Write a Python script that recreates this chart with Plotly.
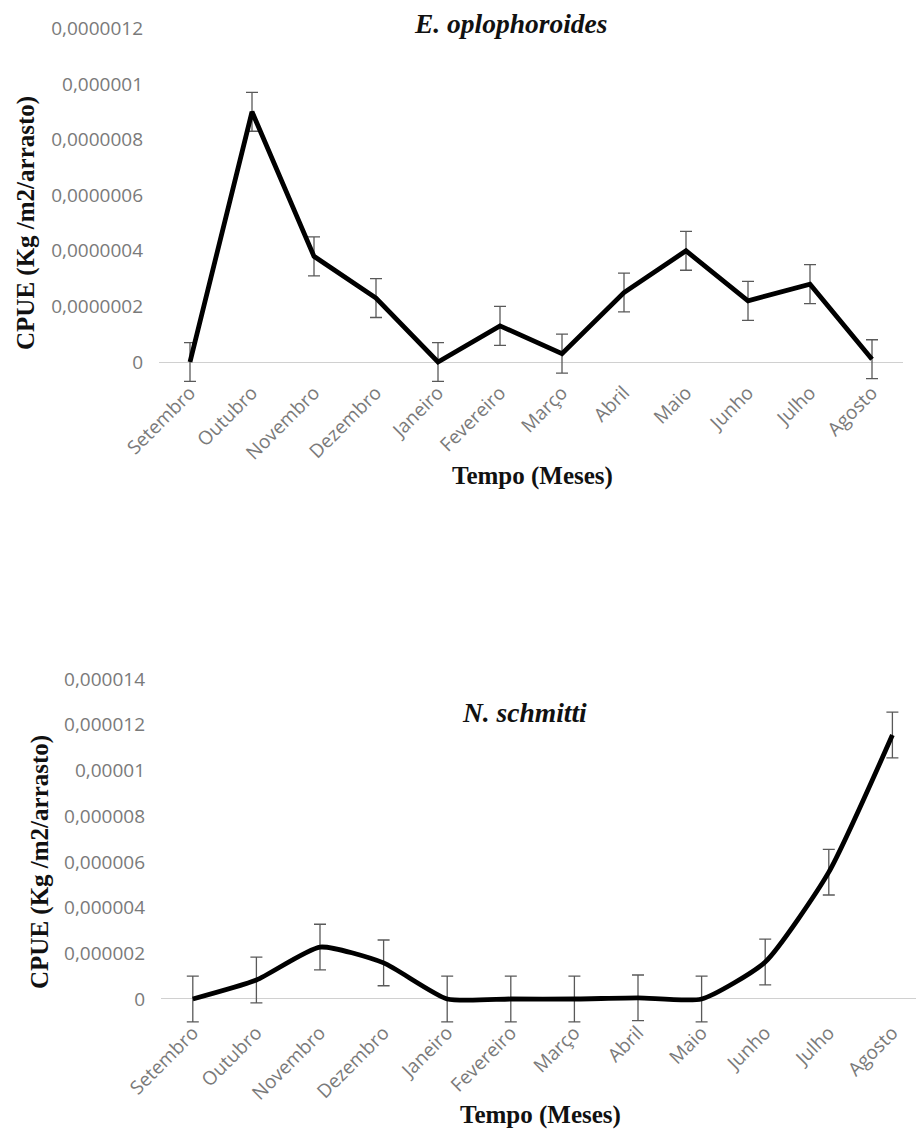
import plotly.graph_objects as go

# Months of the sampling year
months = ["Setembro", "Outubro", "Novembro", "Dezembro", "Janeiro", "Fevereiro",
          "Março", "Abril", "Maio", "Junho", "Julho", "Agosto"]

# CPUE (Kg/m2/arrasto) - E. oplophoroides
cpue_oplo = [0.0, 9.0e-7, 3.8e-7, 2.3e-7, 0.0, 1.3e-7,
             0.3e-7, 2.5e-7, 4.0e-7, 2.2e-7, 2.8e-7, 0.1e-7]
err_oplo = [7e-8] * 12

# CPUE (Kg/m2/arrasto) - N. schmitti
cpue_schm = [0.0, 0.83e-6, 2.27e-6, 1.58e-6, 0.0, 0.0,
             0.0, 0.05e-6, 0.0, 1.62e-6, 5.55e-6, 11.55e-6]
err_schm = [1.0e-6] * 12

# Axis tick values and labels (decimal comma)
ticks_oplo = [0, 2e-7, 4e-7, 6e-7, 8e-7, 1e-6, 1.2e-6]
ticktext_oplo = ["0", "0,0000002", "0,0000004", "0,0000006", "0,0000008",
                 "0,000001", "0,0000012"]
ticks_schm = [0, 2e-6, 4e-6, 6e-6, 8e-6, 1e-5, 1.2e-5, 1.4e-5]
ticktext_schm = ["0", "0,000002", "0,000004", "0,000006", "0,000008",
                 "0,00001", "0,000012", "0,000014"]

W, H = 916, 1131


def py(p):
    """Convert a pixel row (from top) into paper y."""
    return 1 - p / H


def px(p):
    return p / W


line_col = "#000000"
err_col = "#595959"
tick_font = dict(family="Open Sans", size=19, color="#7a7a7a")
title_font = dict(family="Liberation Serif", size=25, color="#111111")
species_font = dict(family="Liberation Serif", size=27.5, color="#111111")

fig = go.Figure()

fig.add_trace(go.Scatter(
    x=list(range(len(months))), y=cpue_oplo, mode="lines",
    line=dict(color=line_col, width=4.8),
    error_y=dict(type="data", array=err_oplo, color=err_col, thickness=1.3, width=6),
    xaxis="x", yaxis="y", showlegend=False,
))

fig.add_trace(go.Scatter(
    x=list(range(len(months))), y=cpue_schm, mode="lines",
    line=dict(color=line_col, width=4.8, shape="spline", smoothing=0.55),
    error_y=dict(type="data", array=err_schm, color=err_col, thickness=1.3, width=6),
    xaxis="x2", yaxis="y2", showlegend=False,
))

axis_common = dict(showgrid=False, ticks="", showline=False, automargin=False)

# y=0 sits at pixel row 362 (top) and 999 (bottom)
fig.update_layout(
    width=W, height=H, autosize=False,
    margin=dict(l=0, r=0, t=0, b=0),
    paper_bgcolor="white", plot_bgcolor="white",
    xaxis=dict(domain=[px(159), px(903)], range=[-0.5, 11.5],
               tickvals=list(range(12)), ticktext=months, tickangle=-45,
               tickfont=tick_font, zeroline=False, anchor="y",
               ticklabelstandoff=-6, **axis_common),
    yaxis=dict(domain=[py(362 + 0.75e-7 * 2.78e8), py(28.4)], range=[-0.75e-7, 1.2e-6],
               tickvals=ticks_oplo, ticktext=ticktext_oplo, tickfont=tick_font,
               zeroline=True, zerolinecolor="#d0d0d0", zerolinewidth=1.2,
               ticklabelstandoff=15, anchor="x", **axis_common),
    xaxis2=dict(domain=[px(161), 1.0], range=[-0.5, -0.5 + (W - 161) / 63.6],
                tickvals=list(range(12)), ticktext=months, tickangle=-45,
                tickfont=tick_font, zeroline=False, anchor="y2",
                ticklabelstandoff=-6, **axis_common),
    yaxis2=dict(domain=[py(999 + 1.05e-6 * 2.285e7), py(679)], range=[-1.05e-6, 1.4e-5],
                tickvals=ticks_schm, ticktext=ticktext_schm, tickfont=tick_font,
                zeroline=True, zerolinecolor="#d0d0d0", zerolinewidth=1.2,
                ticklabelstandoff=15, anchor="x2", **axis_common),
)

annotations = [
    dict(text="<b><i>E. oplophoroides</i></b>", x=px(511), y=py(23), font=species_font),
    dict(text="<b><i>N. schmitti</i></b>", x=px(524), y=py(712), font=species_font),
    dict(text="<b>CPUE (Kg /m2/arrasto)</b>", x=px(26), y=py(223),
         textangle=-90, font=title_font),
    dict(text="<b>CPUE (Kg /m2/arrasto)</b>", x=px(40), y=py(862),
         textangle=-90, font=title_font),
    dict(text="<b>Tempo (Meses)</b>", x=px(532), y=py(476), font=title_font),
    dict(text="<b>Tempo (Meses)</b>", x=px(540), y=py(1115), font=title_font),
]
for a in annotations:
    a.update(xref="paper", yref="paper", showarrow=False,
             xanchor="center", yanchor="middle")
fig.update_layout(annotations=annotations)

fig.write_html("out.html")
